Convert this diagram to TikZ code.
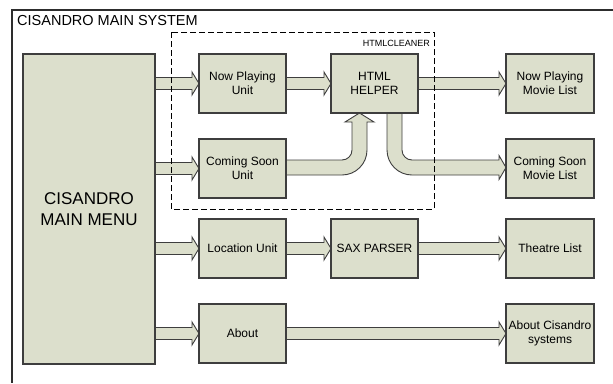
\documentclass[tikz,border=0pt]{standalone}
\usepackage{fontspec}
\setmainfont{Liberation Sans}
\usetikzlibrary{calc,backgrounds}
\definecolor{boxfill}{RGB}{220,223,204}
\definecolor{edge}{RGB}{62,62,62}
\definecolor{framecol}{RGB}{45,45,45}

% straight block arrow from the east side of #1 to the west side of #2
\newcommand\blockarrow[2]{%
  \path[blk] let \p1=(#1.east), \p2=(#2.west) in
    (\x1,\y2+6pt) -- (\x2-7pt,\y2+6pt) -- (\x2-7pt,\y2+11.5pt) -- (\x2,\y2)
    -- (\x2-7pt,\y2-11.5pt) -- (\x2-7pt,\y2-6pt) -- (\x1,\y2-6pt) -- cycle;}

\begin{document}
\begin{tikzpicture}[x=1pt,y=-1pt,
  unit/.style={draw=edge, fill=boxfill, line width=1.1pt, anchor=north west,
    inner sep=0pt, outer sep=0pt, minimum width=87pt, minimum height=59pt,
    align=center, font=\fontsize{12}{14}\selectfont},
  wideunit/.style={unit, minimum width=88pt},
  blk/.style={draw=edge, fill=boxfill, line width=0.9pt, line join=miter},
  group/.style={draw=black, line width=0.9pt, dash pattern=on 6pt off 3pt}]
\useasboundingbox (0,0) rectangle (613,383);

% outer system frame
\draw[framecol, line width=1.4pt] (613,10) -- (12,10) -- (12,383);
\node[anchor=west, inner sep=0pt, font=\fontsize{14.5}{16}\selectfont] (title) at (17,20.5) {CISANDRO MAIN SYSTEM};

% main menu
\node[unit, minimum width=132pt, minimum height=310pt, font=\fontsize{17}{21}\selectfont] (menu) at (23,54) {CISANDRO\\MAIN MENU};

% units
\node[unit] (npu) at (199,54)  {Now Playing\\Unit};
\node[unit] (csu) at (199,139) {Coming Soon\\Unit};
\node[unit] (loc) at (199,219) {Location Unit};
\node[unit] (abt) at (199,304) {About};

% processing
\node[unit] (html) at (331,54)  {HTML\\HELPER};
\node[unit] (sax)  at (331,219) {SAX PARSER};

% outputs
\node[wideunit] (npl) at (506,54)  {Now Playing\\Movie List};
\node[wideunit] (csl) at (506,139) {Coming Soon\\Movie List};
\node[wideunit] (thl) at (506,219) {Theatre List};
\node[wideunit] (acs) at (506,304) {About Cisandro\\systems};

% connectors
\begin{scope}[on background layer]
  \blockarrow{menu}{npu}
  \blockarrow{menu}{csu}
  \blockarrow{menu}{loc}
  \blockarrow{menu}{abt}
  \blockarrow{npu}{html}
  \blockarrow{html}{npl}
  \blockarrow{loc}{sax}
  \blockarrow{sax}{thl}
  \blockarrow{abt}{acs}
  % Coming Soon Unit bends up into the HTML helper
  \path[blk] let \p1=(csu.east), \p2=(html.south), \n1={\x2-15pt}, \n2={\y1+1pt} in
    (\x1,\n2+7.5pt) -- (\n1-17.5pt,\n2+7.5pt)
    arc[start angle=270, end angle=360, radius=10pt]
    -- (\n1-7.5pt,\y2-9pt) -- (\n1-14.5pt,\y2-9pt) -- (\n1,\y2)
    -- (\n1+14.5pt,\y2-9pt) -- (\n1+7.5pt,\y2-9pt) -- (\n1+7.5pt,\n2+17.5pt)
    arc[start angle=0, end angle=-90, radius=25pt]
    -- (\x1,\n2-7.5pt) -- cycle;
  % HTML helper bends down into the Coming Soon movie list
  \path[blk] let \p2=(html.south), \p3=(csl.west), \n1={\x2+20pt}, \n2={\y3+1pt} in
    (\n1-7.5pt,\y2) -- (\n1-7.5pt,\n2+17.5pt)
    arc[start angle=180, end angle=270, radius=25pt]
    -- (\x3-7pt,\n2-7.5pt) -- (\x3-7pt,\n2-12pt) -- (\x3,\n2)
    -- (\x3-7pt,\n2+12pt) -- (\x3-7pt,\n2+7.5pt) -- (\n1+17.5pt,\n2+7.5pt)
    arc[start angle=270, end angle=180, radius=10pt]
    -- (\n1+7.5pt,\y2) -- cycle;
\end{scope}

% HTML cleaner group
\draw[group] (171,32) rectangle (434,209);
\node[anchor=east, inner sep=0pt, font=\fontsize{9}{10}\selectfont] (cleaner) at (430,43.7) {HTMLCLEANER};
\end{tikzpicture}
\end{document}
